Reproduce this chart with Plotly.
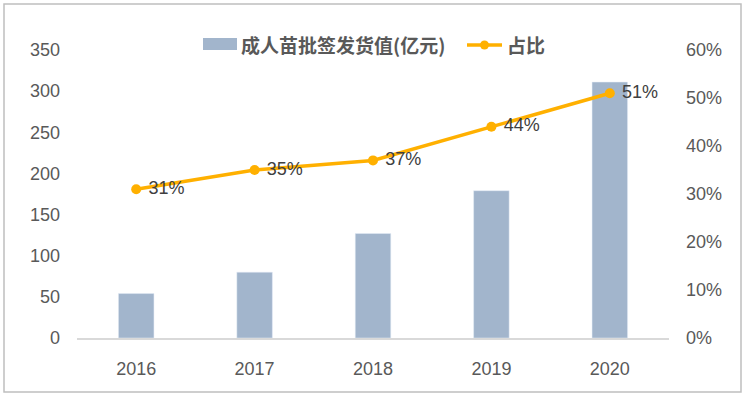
import plotly.graph_objects as go

years = ["2016", "2017", "2018", "2019", "2020"]
values = [54, 80, 127, 179, 311]
share = [0.31, 0.35, 0.37, 0.44, 0.51]
share_labels = [" 31%", " 35%", " 37%", " 44%", " 51%"]
bar_name = "成人苗批签发货值(亿元)"
line_name = "占比"

W, H = 745, 396
L, R, T, B = 77, 76, 50, 58
PW, PH = W - L - R, H - T - B


def px(x):
    return (x - L) / PW


def py(y):
    return (H - B - y) / PH


BAR_C = "#A2B5CC"
LINE_C = "#FFB000"
tick_font = dict(family="Liberation Sans Narrow, Arial Narrow, Liberation Sans, sans-serif", size=18, color="#595959")

fig = go.Figure()
fig.add_trace(go.Bar(x=years, y=values, name=bar_name, marker_color=BAR_C, width=0.3))
fig.add_trace(go.Scatter(x=years, y=share, name=line_name, yaxis="y2", mode="lines+markers+text",
                         line=dict(color=LINE_C, width=3.5), marker=dict(size=10, color=LINE_C),
                         text=share_labels, textposition="middle right",
                         textfont=dict(family="Liberation Sans, Arial, sans-serif", size=18, color="#404040")))

leg_font = dict(family="Noto Sans CJK SC, sans-serif", size=19, color="#595959", weight="bold")

shapes = [
    dict(type="rect", xref="paper", yref="paper", x0=px(4), x1=px(741), y0=py(392), y1=py(4),
         line=dict(color="#BFBFBF", width=1.5), fillcolor="rgba(0,0,0,0)"),
    dict(type="rect", xref="paper", yref="paper", x0=px(203), x1=px(237), y0=py(50), y1=py(38),
         line=dict(width=0), fillcolor=BAR_C),
    dict(type="line", xref="paper", yref="paper", x0=px(467), x1=px(502), y0=py(45), y1=py(45),
         line=dict(color=LINE_C, width=3.5)),
    dict(type="circle", xref="paper", yref="paper", x0=px(480), x1=px(489), y0=py(49.5), y1=py(40.5),
         line=dict(width=0), fillcolor=LINE_C),
]
annotations = [
    dict(text=bar_name, xref="paper", yref="paper", x=px(239), y=py(45), xanchor="left", yanchor="middle",
         showarrow=False, font=leg_font),
    dict(text=line_name, xref="paper", yref="paper", x=px(505), y=py(45), xanchor="left", yanchor="middle",
         showarrow=False, font=leg_font),
]

fig.update_layout(
    width=W, height=H,
    margin=dict(l=L, r=R, t=T, b=B),
    paper_bgcolor="white", plot_bgcolor="white",
    showlegend=False,
    xaxis=dict(showline=True, linecolor="#D9D9D9", linewidth=1.5, tickfont=tick_font, ticks="", showgrid=False,
               ticklabelstandoff=14),
    yaxis=dict(range=[0, 350], dtick=50, showgrid=False, zeroline=False, tickfont=tick_font, ticks="",
               ticklabelstandoff=16),
    yaxis2=dict(range=[0, 0.6], dtick=0.1, tickformat=".0%", overlaying="y", side="right",
                showgrid=False, zeroline=False, tickfont=tick_font, ticks="", ticklabelstandoff=16),
    shapes=shapes,
    annotations=annotations,
)
fig.write_html("out.html", config={"displayModeBar": False},
               post_script="document.body.style.margin='0';document.body.style.overflow='hidden';")
